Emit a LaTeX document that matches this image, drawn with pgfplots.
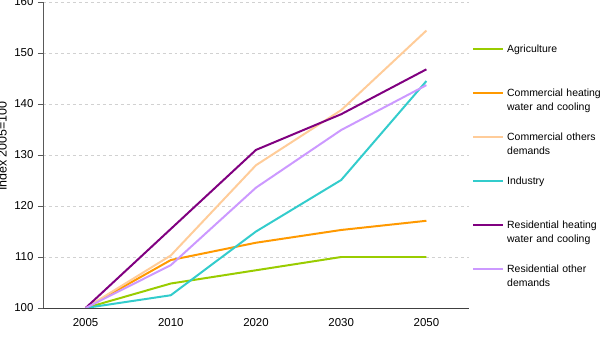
\documentclass[border=0pt]{standalone}
\usepackage{fontspec}
\setmainfont{Liberation Sans}
\usepackage{pgfplots}
\pgfplotsset{compat=1.18}
\definecolor{cAgr}{RGB}{153,204,0}
\definecolor{cComH}{RGB}{255,153,0}
\definecolor{cComO}{RGB}{255,204,153}
\definecolor{cInd}{RGB}{51,204,204}
\definecolor{cResH}{RGB}{128,0,128}
\definecolor{cResO}{RGB}{204,153,255}
\begin{document}
\begin{tikzpicture}
\useasboundingbox (0,0) rectangle (603bp,338bp);
\begin{axis}[
  at={(43bp,30bp)}, anchor=south west,
  scale only axis, width=426bp, height=306bp,
  xmin=-0.5, xmax=4.5, ymin=100, ymax=160,
  xtick={0,1,2,3,4},
  xticklabels={2005,2010,2020,2030,2050},
  extra x ticks={-0.5,0.5,1.5,2.5,3.5,4.5},
  extra x tick labels={},
  extra x tick style={major tick length=4bp, tick style={draw=black!70}},
  ytick={100,110,...,160},
  axis x line*=bottom, axis y line*=left,
  x axis line style={draw=black!75, line width=0.8pt, -},
  y axis line style={draw=black!65, line width=0.6pt, -},
  tick align=outside,
  xtick style={draw=none},
  ytick style={draw=black!65, line width=0.6pt},
  major tick length=5bp,
  ymajorgrids,
  grid style={dashed, black!18, line width=0.5pt},
  tick label style={font=\fontsize{11.5}{13}\selectfont},
  /pgf/number format/assume math mode=true,
  yticklabel style={xshift=-1bp},
  xticklabel style={yshift=-2bp},
  ylabel={Index 2005=100},
  ylabel style={at={(axis description cs:-0.096,0.529)}, anchor=center, font=\fontsize{12.5}{14}\selectfont},
  every axis plot/.append style={line width=2pt, mark=none},
  legend image code/.code={\draw[#1] (0bp,17.5bp) -- (30bp,17.5bp);},
  legend cell align=left,
  legend style={draw=none, fill=none, at={(rel axis cs:1,1)}, anchor=north west,
    xshift=3bp, yshift=-42bp, inner sep=0pt, column sep=3bp,
    nodes={inner sep=0pt, font=\fontsize{10.5}{14}\selectfont},
    /tikz/every even column/.append style={nodes={text width=96bp, align=left, text height=8bp, text depth=36bp}}},
]
\addplot[cAgr] coordinates {(0,100) (1,104.8) (2,107.4) (3,110.0) (4,110.0)};
\addlegendentry{Agriculture}
\addplot[cComH] coordinates {(0,100) (1,109.4) (2,112.8) (3,115.3) (4,117.1)};
\addlegendentry{Commercial heating water and cooling}
\addplot[cComO] coordinates {(0,100) (1,110.3) (2,128.0) (3,138.8) (4,154.4)};
\addlegendentry{Commercial others demands}
\addplot[cInd] coordinates {(0,100) (1,102.5) (2,115.0) (3,125.1) (4,144.5)};
\addlegendentry{Industry}
\addplot[cResH] coordinates {(0,100) (1,115.5) (2,131.0) (3,138.0) (4,146.8)};
\addlegendentry{Residential heating water and cooling}
\addplot[cResO] coordinates {(0,100) (1,108.4) (2,123.6) (3,134.9) (4,143.7)};
\addlegendentry{Residential other demands}
\end{axis}
\end{tikzpicture}
\end{document}
